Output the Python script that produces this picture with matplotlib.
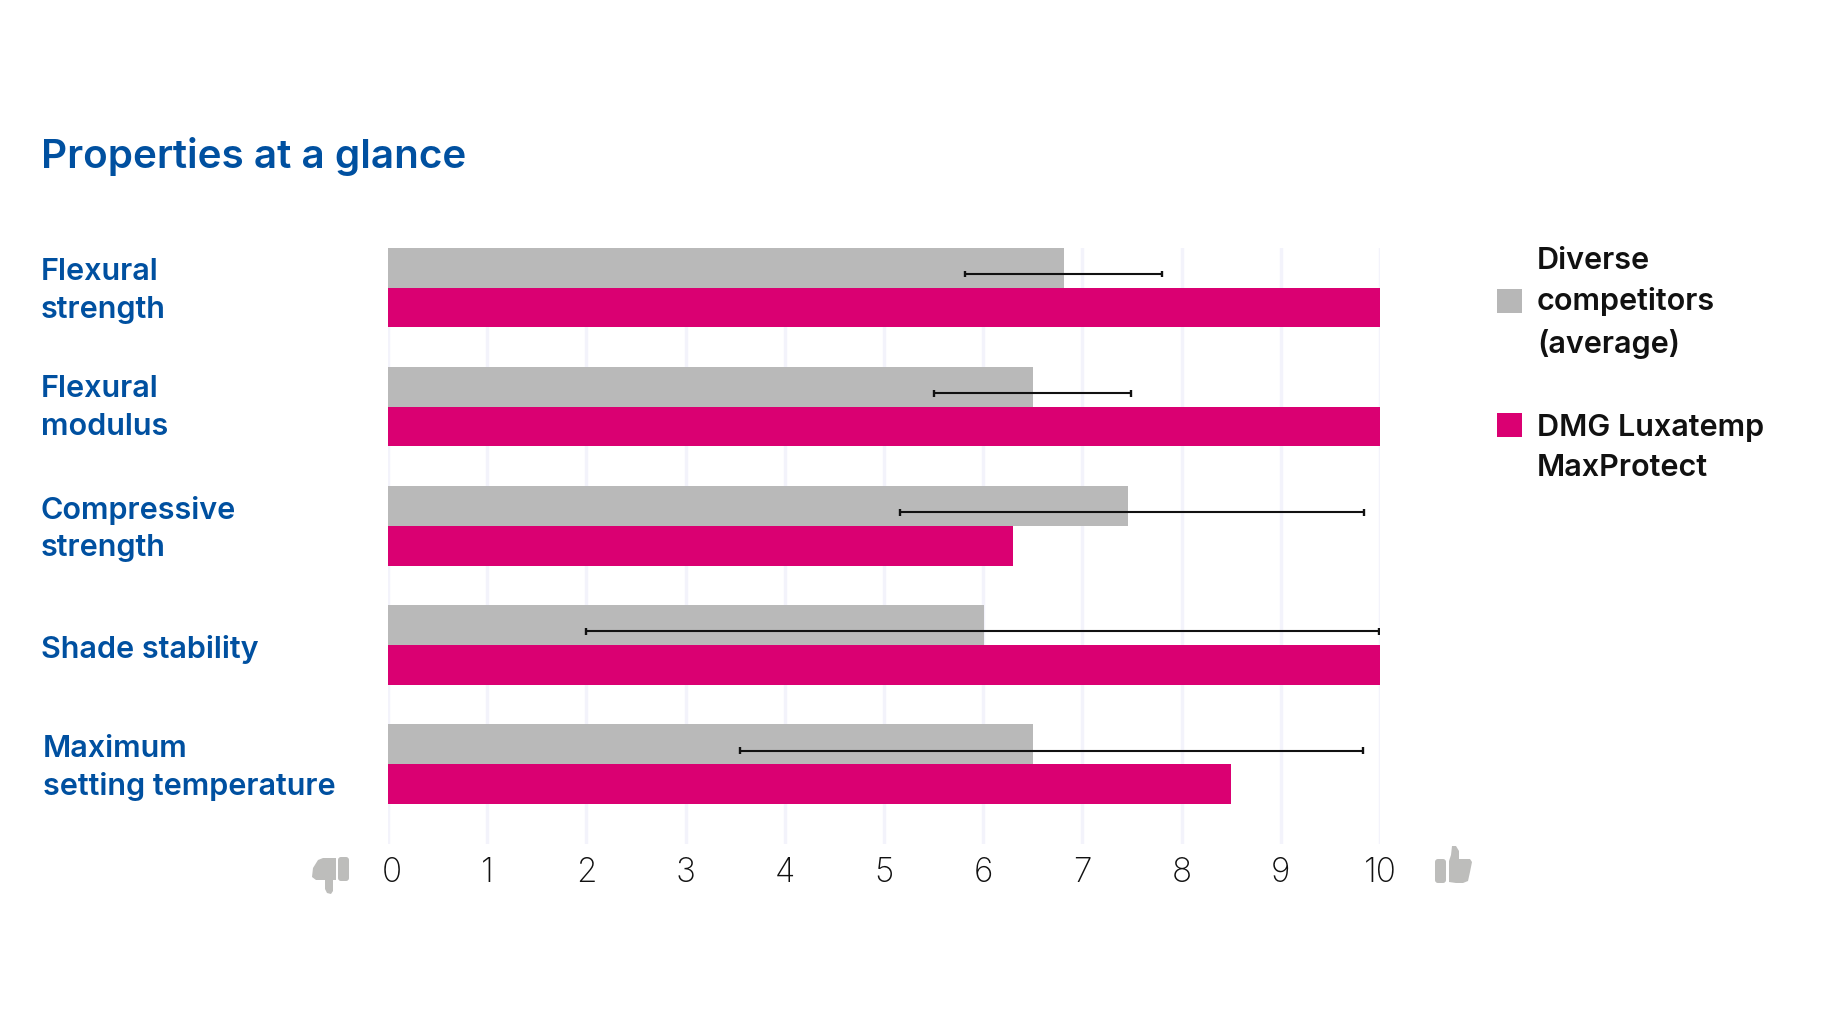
import matplotlib
matplotlib.use("Agg")
import matplotlib.pyplot as plt
from matplotlib.patches import FancyBboxPatch, Polygon, Rectangle
from matplotlib.transforms import ScaledTranslation

categories = ["Flexural\nstrength", "Flexural\nmodulus", "Compressive\nstrength",
              "Shade stability", "Maximum\nsetting temperature"]
competitors = [6.81, 6.5, 7.46, 6.01, 6.5]
luxatemp = [10, 10, 6.3, 10, 8.5]
err_low = [5.82, 5.5, 5.16, 2.0, 3.55]
err_high = [7.8, 7.49, 9.84, 9.99, 9.83]
tick_values = list(range(11))
legend_names = ["Diverse\ncompetitors\n(average)", "DMG Luxatemp\nMaxProtect"]

BLUE = "#0050a0"
PINK = "#da0072"
GREY = "#b7b7b7"
ICON = "#bdbdbb"
FONT = "Inter"

W, H = 1840, 1030
fig = plt.figure(figsize=(W / 100, H / 100), dpi=100, facecolor="white")

# overlay in pixel coordinates for the text and the icons
over = fig.add_axes([0, 0, 1, 1], zorder=5)
over.set_xlim(0, W)
over.set_ylim(H, 0)
over.axis("off")

ax = fig.add_axes([388 / W, 1 - 843.5 / H, 992 / W, 595.5 / H])
ax.set_xlim(0, 10)
ax.set_ylim(4 + 2 / 3, -1 / 3)
bar_h = 1 / 3

ax.set_axisbelow(True)
ax.grid(axis="x", color="#f3f3fb", lw=2.4)
for i in range(len(categories)):
    ax.barh(i - bar_h / 2, competitors[i], height=bar_h, color=GREY, alpha=0.97, zorder=2)
    ax.barh(i + bar_h / 2, luxatemp[i], height=bar_h, color=PINK, zorder=3)
    y = i - bar_h / 2 + 0.053
    ax.hlines(y, err_low[i], err_high[i], color="#111111", lw=1.5, zorder=4)
    ax.vlines([err_low[i], err_high[i]], y - 0.028, y + 0.028, color="#111111", lw=1.7, zorder=4)

for s in ax.spines.values():
    s.set_visible(False)
ax.set_yticks([])
ax.set_xticks(tick_values)
ax.set_xticklabels([str(t) for t in tick_values], fontsize=24, family=FONT,
                   fontweight="light", color="#111111")
ax.tick_params(axis="x", length=0, pad=10)
# the 0 sits a little right of its gridline
lab0 = ax.get_xticklabels()[0]
lab0.set_transform(lab0.get_transform() + ScaledTranslation(4 / 100, 0, fig.dpi_scale_trans))

over.text(41, 157, "Properties at a glance", fontsize=29.1, family=FONT, fontweight="semibold",
          color=BLUE, va="center", ha="left")

label_x = [41, 41, 41, 41, 43]
label_y = [291, 408, 529, 649, 768]
for name, lx, ly in zip(categories, label_x, label_y):
    over.text(lx, ly, name, fontsize=22, family=FONT, fontweight="semibold", color=BLUE,
              va="center", ha="left", linespacing=1.43)

# legend
over.add_patch(Rectangle((1497, 289), 25, 24, color=GREY, lw=0))
over.add_patch(Rectangle((1497, 413), 25, 24, color=PINK, lw=0))
over.text(1537, 303, legend_names[0], fontsize=22, family=FONT, fontweight="semibold",
          color="#111111", va="center", ha="left", linespacing=1.53)
over.text(1537, 448, legend_names[1], fontsize=22, family=FONT, fontweight="semibold",
          color="#111111", va="center", ha="left", linespacing=1.53)

# thumbs
over.add_patch(FancyBboxPatch((1435, 859), 11, 24, boxstyle="round,pad=0,rounding_size=3", color=ICON, lw=0))
over.add_patch(Polygon([(1449, 861), (1449, 882), (1456, 883), (1463, 883), (1468, 881), (1470, 872),
                        (1472, 862), (1470, 859), (1459, 859), (1459, 851), (1456, 846), (1452, 846),
                        (1451, 855)], closed=True, color=ICON, lw=0))
over.add_patch(FancyBboxPatch((338, 857), 11, 24, boxstyle="round,pad=0,rounding_size=3", color=ICON, lw=0))
over.add_patch(Polygon([(336, 858), (336, 880), (333, 880), (333, 891), (331, 894), (327, 893),
                        (325, 889), (325, 880), (316, 880), (312, 877), (313, 868), (318, 860),
                        (323, 858)], closed=True, color=ICON, lw=0))

fig.savefig("out.png", dpi=100, facecolor="white")
